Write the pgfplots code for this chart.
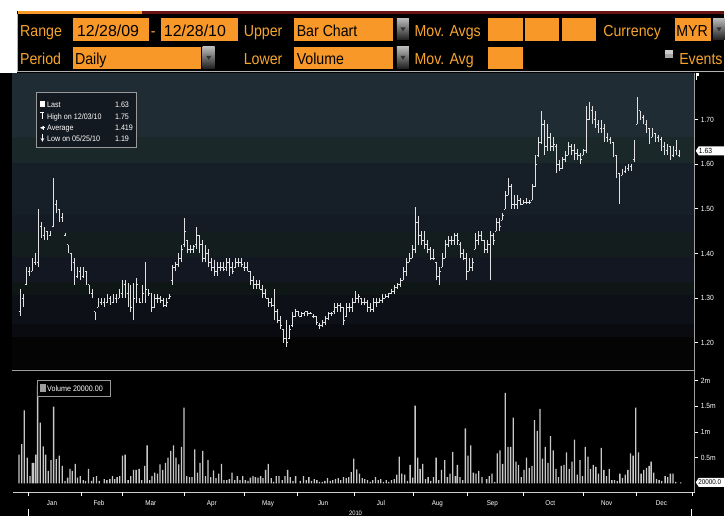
\documentclass[border=0pt]{standalone}
\usepackage{fontspec}
\setmainfont{Liberation Sans}
\newfontfamily\hdrfont{Liberation Sans}[FakeStretch=0.89]
\newfontfamily\smf{Liberation Sans}[FakeStretch=0.9]
\usepackage{pgfplots}
\pgfplotsset{compat=1.18}
\usepackage{pgfplotstable}
\usetikzlibrary{calc}

\definecolor{boxor}{RGB}{248,152,40}
\definecolor{lblor}{RGB}{247,165,45}
\definecolor{tabred}{RGB}{105,18,18}
\definecolor{bA}{RGB}{31,44,52}
\definecolor{bB}{RGB}{27,40,41}
\definecolor{bC}{RGB}{22,30,40}
\definecolor{bD}{RGB}{20,27,37}
\definecolor{bE}{RGB}{19,29,29}
\definecolor{bF}{RGB}{19,23,33}
\definecolor{bG}{RGB}{15,22,22}
\definecolor{bH}{RGB}{13,16,23}
\definecolor{bI}{RGB}{10,11,16}
\definecolor{bJ}{RGB}{4,4,5}
\definecolor{barc}{RGB}{225,225,225}
\definecolor{volc}{RGB}{200,200,200}
\definecolor{legbg}{RGB}{19,25,32}

\pgfdeclareplotmark{otick}{\pgfpathmoveto{\pgfqpoint{-1.3pt}{0pt}}\pgfpathlineto{\pgfqpoint{0pt}{0pt}}\pgfusepathqstroke}
\pgfdeclareplotmark{ctick}{\pgfpathmoveto{\pgfqpoint{0pt}{0pt}}\pgfpathlineto{\pgfqpoint{1.3pt}{0pt}}\pgfusepathqstroke}

\pgfplotstableread{
x o h l c
20 1.27 1.32 1.26 1.30
23 1.30 1.31 1.28 1.29
26 1.33 1.37 1.33 1.36
29 1.36 1.37 1.35 1.36
32 1.36 1.39 1.36 1.38
35 1.38 1.40 1.375 1.39
38 1.38 1.50 1.37 1.46
41 1.46 1.47 1.435 1.44
44 1.44 1.46 1.43 1.45
47 1.45 1.45 1.43 1.44
50 1.44 1.45 1.44 1.45
53 1.46 1.57 1.46 1.52
56 1.51 1.52 1.49 1.50
59 1.50 1.50 1.47 1.48
62 1.48 1.49 1.47 1.48
65 1.44 1.445 1.44 1.44
68 1.42 1.42 1.40 1.41
71 1.40 1.40 1.36 1.37
74 1.38 1.39 1.33 1.34
77 1.35 1.37 1.345 1.36
80 1.36 1.37 1.34 1.35
83 1.35 1.37 1.345 1.36
86 1.36 1.36 1.33 1.34
89 1.33 1.33 1.31 1.32
92 1.31 1.32 1.30 1.305
95 1.27 1.27 1.25 1.255
98 1.28 1.30 1.28 1.29
101 1.29 1.30 1.285 1.295
104 1.29 1.30 1.28 1.285
107 1.29 1.31 1.29 1.30
110 1.30 1.305 1.285 1.29
113 1.29 1.31 1.29 1.30
116 1.30 1.31 1.29 1.295
119 1.30 1.32 1.30 1.31
122 1.31 1.34 1.30 1.33
125 1.33 1.34 1.30 1.31
128 1.31 1.335 1.28 1.30
131 1.30 1.33 1.27 1.28
134 1.28 1.335 1.25 1.30
137 1.30 1.345 1.29 1.33
140 1.30 1.30 1.29 1.29
143 1.29 1.33 1.29 1.31
146 1.31 1.38 1.29 1.32
149 1.32 1.32 1.305 1.31
152 1.31 1.31 1.27 1.28
155 1.28 1.31 1.28 1.30
158 1.30 1.31 1.29 1.30
161 1.30 1.305 1.29 1.295
164 1.295 1.30 1.28 1.285
167 1.285 1.30 1.28 1.29
170 1.30 1.31 1.30 1.305
173 1.34 1.375 1.33 1.37
176 1.37 1.38 1.36 1.375
179 1.375 1.40 1.37 1.39
182 1.39 1.42 1.38 1.41
185 1.42 1.48 1.415 1.45
188 1.43 1.43 1.40 1.41
191 1.41 1.42 1.40 1.41
194 1.41 1.42 1.40 1.415
197 1.42 1.46 1.41 1.44
200 1.44 1.44 1.40 1.42
203 1.42 1.43 1.38 1.39
206 1.39 1.42 1.38 1.40
209 1.40 1.41 1.37 1.38
212 1.38 1.39 1.36 1.37
215 1.37 1.385 1.35 1.36
218 1.36 1.38 1.35 1.37
221 1.37 1.38 1.36 1.37
224 1.37 1.38 1.36 1.365
227 1.37 1.39 1.36 1.38
230 1.38 1.39 1.35 1.37
233 1.37 1.38 1.355 1.36
236 1.37 1.39 1.37 1.38
239 1.38 1.39 1.37 1.38
242 1.38 1.39 1.37 1.375
245 1.37 1.38 1.36 1.37
248 1.37 1.38 1.36 1.36
251 1.36 1.36 1.33 1.34
254 1.34 1.35 1.32 1.33
257 1.33 1.34 1.32 1.33
260 1.33 1.34 1.32 1.32
263 1.32 1.33 1.30 1.31
266 1.31 1.32 1.30 1.30
269 1.30 1.30 1.28 1.29
272 1.29 1.30 1.28 1.285
275 1.285 1.32 1.25 1.27
278 1.27 1.275 1.245 1.25
281 1.25 1.26 1.23 1.24
284 1.23 1.23 1.20 1.21
287 1.21 1.25 1.19 1.20
290 1.21 1.24 1.21 1.23
293 1.24 1.27 1.235 1.26
296 1.26 1.275 1.26 1.27
299 1.27 1.27 1.26 1.26
302 1.26 1.27 1.26 1.265
305 1.265 1.27 1.26 1.27
308 1.27 1.27 1.26 1.265
311 1.265 1.27 1.265 1.265
314 1.26 1.265 1.255 1.26
317 1.26 1.26 1.24 1.245
320 1.24 1.245 1.23 1.24
323 1.24 1.25 1.235 1.245
326 1.245 1.26 1.24 1.255
329 1.255 1.27 1.25 1.265
332 1.265 1.27 1.26 1.265
335 1.27 1.29 1.265 1.28
338 1.28 1.29 1.27 1.285
341 1.285 1.29 1.27 1.28
344 1.28 1.28 1.24 1.25
347 1.26 1.29 1.26 1.28
350 1.28 1.29 1.27 1.28
353 1.28 1.30 1.27 1.29
356 1.29 1.315 1.29 1.30
359 1.30 1.31 1.29 1.305
362 1.30 1.30 1.285 1.29
365 1.29 1.30 1.285 1.29
368 1.29 1.295 1.27 1.28
371 1.28 1.29 1.27 1.275
374 1.275 1.30 1.27 1.29
377 1.29 1.30 1.28 1.29
380 1.29 1.30 1.29 1.295
383 1.295 1.31 1.29 1.30
386 1.30 1.31 1.30 1.305
389 1.305 1.31 1.30 1.31
392 1.31 1.32 1.31 1.315
395 1.315 1.33 1.31 1.325
398 1.325 1.335 1.32 1.33
401 1.33 1.345 1.325 1.34
404 1.34 1.37 1.34 1.36
407 1.36 1.39 1.35 1.38
410 1.38 1.40 1.38 1.39
413 1.39 1.42 1.39 1.41
416 1.41 1.505 1.40 1.47
419 1.47 1.485 1.42 1.44
422 1.44 1.45 1.42 1.43
425 1.43 1.45 1.41 1.42
428 1.42 1.43 1.40 1.41
431 1.41 1.415 1.385 1.39
434 1.39 1.41 1.385 1.39
437 1.38 1.38 1.34 1.35
440 1.35 1.37 1.33 1.36
443 1.37 1.40 1.37 1.39
446 1.39 1.43 1.39 1.42
449 1.42 1.44 1.415 1.43
452 1.43 1.44 1.42 1.43
455 1.43 1.445 1.42 1.44
458 1.44 1.445 1.42 1.43
461 1.42 1.425 1.39 1.40
464 1.40 1.41 1.385 1.39
467 1.39 1.40 1.34 1.36
470 1.36 1.39 1.36 1.37
473 1.37 1.39 1.36 1.38
476 1.41 1.445 1.41 1.43
479 1.43 1.45 1.42 1.44
482 1.44 1.45 1.43 1.43
485 1.43 1.43 1.40 1.41
488 1.41 1.43 1.40 1.42
491 1.42 1.45 1.34 1.44
494 1.44 1.445 1.42 1.43
497 1.45 1.48 1.45 1.47
500 1.47 1.48 1.45 1.46
503 1.475 1.49 1.475 1.485
506 1.50 1.54 1.50 1.53
509 1.53 1.57 1.53 1.55
512 1.55 1.555 1.50 1.51
515 1.51 1.53 1.50 1.51
518 1.51 1.53 1.50 1.52
521 1.52 1.525 1.51 1.51
524 1.51 1.52 1.51 1.515
527 1.515 1.525 1.51 1.515
530 1.515 1.52 1.51 1.515
533 1.52 1.555 1.52 1.55
536 1.55 1.62 1.55 1.60
539 1.62 1.66 1.615 1.65
542 1.65 1.72 1.645 1.69
545 1.69 1.70 1.62 1.64
548 1.64 1.69 1.63 1.66
551 1.66 1.67 1.63 1.64
554 1.64 1.66 1.63 1.645
557 1.64 1.645 1.58 1.60
560 1.60 1.61 1.585 1.59
563 1.59 1.615 1.59 1.61
566 1.61 1.63 1.605 1.62
569 1.62 1.65 1.62 1.64
572 1.64 1.645 1.62 1.63
575 1.63 1.645 1.61 1.625
578 1.625 1.635 1.61 1.62
581 1.62 1.625 1.60 1.61
584 1.62 1.635 1.62 1.63
587 1.63 1.73 1.625 1.70
590 1.70 1.74 1.70 1.72
593 1.72 1.73 1.69 1.70
596 1.70 1.72 1.68 1.69
599 1.69 1.70 1.67 1.68
602 1.68 1.70 1.67 1.68
605 1.68 1.69 1.65 1.66
608 1.66 1.67 1.65 1.655
611 1.655 1.66 1.645 1.65
614 1.65 1.65 1.615 1.625
617 1.62 1.62 1.57 1.58
620 1.58 1.58 1.51 1.57
623 1.575 1.59 1.575 1.585
626 1.585 1.595 1.58 1.59
629 1.59 1.60 1.585 1.595
632 1.595 1.60 1.585 1.60
635 1.61 1.655 1.605 1.65
638 1.69 1.75 1.69 1.74
641 1.72 1.72 1.70 1.705
644 1.705 1.71 1.69 1.695
647 1.69 1.70 1.67 1.68
650 1.68 1.68 1.645 1.66
653 1.66 1.68 1.66 1.67
656 1.67 1.67 1.65 1.66
659 1.66 1.665 1.65 1.655
662 1.655 1.66 1.63 1.64
665 1.64 1.65 1.62 1.63
668 1.63 1.645 1.62 1.64
671 1.64 1.64 1.61 1.62
674 1.62 1.64 1.615 1.63
677 1.63 1.655 1.62 1.64
680 1.62 1.63 1.615 1.63
}\price

\pgfplotstableread{
x v
19 0.56
21.7 0.76
24.3 1.42
27.3 0.50
30 0.14
32.3 0.40
33.7 0.40
35.7 0.56
37.7 1.90
40.3 1.18
43.3 0.72
45.7 0.56
48.3 0.24
51 0.45
53.7 1.49
56.3 0.47
59.3 0.54
62.3 0.34
65 0.05
67.7 0.11
70 0.28
72.3 0.24
75.3 0.38
77.7 0.11
80.3 0.14
83.3 0.06
85.7 0.05
88.7 0.28
91.7 0.05
93.7 0.12
96.7 0.14
99.3 0.05
104.3 0.08
107 0.06
110 0.08
112.7 0.14
115 0.08
117.3 0.12
120 0.14
122.7 0.54
125.3 0.56
128.3 0.06
131 0.14
133.7 0.26
136.3 0.26
139.3 0.28
142 0.06
145 0.34
147.3 0.74
150 0.06
152.3 0.14
155 0.21
157.7 0.19
160.3 0.37
163 0.26
165.7 0.40
168.3 0.50
171 0.63
173.7 0.74
176.3 0.50
179 0.37
181.7 0.71
184.3 1.47
187 0.14
189.7 0.12
192.3 0.12
195 0.66
197.7 0.21
200.3 0.40
203 0.63
205.7 0.14
208.3 0.45
211 0.12
213.7 0.25
216.3 0.10
219 0.19
221.7 0.38
224.3 0.06
227 0.06
229.7 0.08
232.3 0.21
235 0.06
237.7 0.14
240.3 0.06
243 0.14
245.7 0.06
248.3 0.05
250.7 0.11
253.3 0.14
255.7 0.12
258.3 0.11
261 0.14
263.3 0.10
266 0.26
268.7 0.38
271.7 0.10
274 0.03
276.7 0.14
279.3 0.14
282.7 0.06
285.3 0.14
288 0.26
290.7 0.12
293.3 0.05
296 0.14
300.7 0.05
304 0.14
306.7 0.06
309.3 0.12
312 0.05
314.7 0.08
317.3 0.06
320 0.03
322.7 0.03
325.3 0.05
328 0.10
330.7 0.05
333.3 0.06
336 0.08
338.7 0.10
341.3 0.06
344 0.12
346.7 0.10
349.3 0.12
351.7 0.22
354.3 0.48
357.3 0.27
360 0.19
362.7 0.10
365.3 0.08
368 0.06
370.7 0.03
373.3 0.06
376 0.12
378.7 0.06
381.3 0.08
384 0.03
386.7 0.06
389.3 0.03
392 0.06
394.7 0.08
397.3 0.17
399.7 0.52
402.3 0.19
405.3 0.17
408 0.05
410.7 0.36
413.3 0.11
415.7 1.51
418.3 0.50
420.7 0.28
423.3 0.38
426 0.08
428.7 0.12
431.3 0.05
434 0.12
436.7 0.50
439.3 0.06
442 0.26
445.3 0.45
448 0.12
450.7 0.19
453.3 0.61
456 0.14
458 0.36
460.7 0.12
463.3 0.06
466 1.07
468.7 0.54
471.3 0.74
474 0.21
476.7 0.19
479.3 0.24
482.7 0.12
487.3 0.08
490 0.14
492.7 0.19
495.3 0.03
498 0.58
500.7 0.64
503.3 0.38
506 1.76
508.7 0.71
511.3 0.71
514 1.28
516.7 0.42
519.3 0.36
522 0.12
524.7 0.26
527.3 0.50
530 0.30
532.7 0.34
535.3 1.23
538 1.02
540.7 1.45
543.3 0.48
546 0.71
548.7 0.40
551.3 0.92
554 0.64
556.7 0.28
559.3 0.12
562 0.34
564.7 0.36
567.3 0.60
570 0.28
572.7 0.42
575.3 0.85
578 0.17
580.7 0.45
583.3 0.14
586 0.71
588.7 0.52
591.3 0.28
594 0.36
596.7 0.32
599.3 0.19
602 0.69
604.7 0.26
607.3 0.14
610 0.28
612.7 0.06
615.3 0.06
618 0.05
620.7 0.19
623.3 0.10
626 0.17
628.7 0.26
631.3 0.58
634 0.54
636.7 1.47
639.3 0.60
642 0.19
644.7 0.26
647.3 0.30
650 0.34
652 0.42
654.7 0.21
657.3 0.08
660 0.06
662.7 0.05
666 0.14
668.7 0.12
671.3 0.19
674 0.19
676.7 0.03
681.7 0.02
}\vol

\tikzset{
  hlab/.style={anchor=base west, inner sep=0pt, text=lblor, font=\hdrfont\fontsize{16}{16}\selectfont},
  hnum/.style={anchor=base west, inner sep=0pt, text=black, font=\fontsize{16}{16}\selectfont},
  htxt/.style={anchor=base west, inner sep=0pt, text=black, font=\hdrfont\fontsize{16}{16}\selectfont},
  ddbtn/.style={top color=gray!55, bottom color=gray!25!black, draw=none},
  lg/.style={anchor=base west, inner sep=0pt, text=white, font=\smf\fontsize{8}{8}\selectfont},
}
\newcommand{\ddb}[2]{\fill[ddbtn] (#1,#2) rectangle ++(12,21.5);
  \fill[black!80] ($(#1,#2)+(3.5,12.5)$) -- ++(5,0) -- ++(-2.5,-4) -- cycle;}

\begin{document}
\begin{tikzpicture}[x=1bp,y=1bp]
% page background
\fill[black] (0,0) rectangle (725,517);
\fill[white] (0,506.3) rectangle (725,517);
\fill[white] (0,444) rectangle (17.5,517);
\fill[boxor] (18.5,503) rectangle (142,506.3);
\fill[tabred] (142,503) rectangle (725,505.5);
\draw[gray!60, line width=0.8bp] (17.6,445.3) -- (17.6,503) (17.6,445.3) -- (725,445.3);

% header row 1
\node[hlab] at (20,480.3) {Range};
\fill[boxor] (73,476.3) rectangle (149,498.7);
\node[hnum] at (77,480.3) {12/28/09};
\node[hlab] at (151,480.3) {-};
\fill[boxor] (161,476.3) rectangle (238.5,498.7);
\node[hnum] at (164,480.3) {12/28/10};
\node[hlab] at (244,480.3) {Upper};
\fill[boxor] (294,476.3) rectangle (394,498.7);
\node[htxt] at (297,480.3) {Bar Chart};
\ddb{397.5}{477}
\node[hlab] at (415,480.3) {Mov. Avgs};
\fill[boxor] (489,476.3) rectangle (524,498.7);
\fill[boxor] (526,476.3) rectangle (560,498.7);
\fill[boxor] (563,476.3) rectangle (597,498.7);
\node[hlab] at (604,480.3) {Currency};
\fill[boxor] (676,476.3) rectangle (712,498.7);
\node[htxt] at (677,480.3) {MYR};
\ddb{714}{477}
% header row 2
\node[hlab] at (20,452) {Period};
\fill[boxor] (73,448) rectangle (201,470.3);
\node[htxt] at (75,452) {Daily};
\ddb{203}{448.5}
\node[hlab] at (244,452) {Lower};
\fill[boxor] (294,448) rectangle (394,470.3);
\node[htxt] at (297,452) {Volume};
\ddb{397.5}{448.5}
\node[hlab] at (415,452) {Mov. Avg};
\fill[boxor] (489,448) rectangle (524,470.3);
\fill[gray!70] (666,459) rectangle (674,467);
\fill[gray!40] (666,463) rectangle (674,467);
\node[hlab] at (680,452) {Events};

% upper panel background bands
\fill[bA] (12.3,380) rectangle (695.7,444);
\fill[bB] (12.3,354) rectangle (695.7,380);
\fill[bC] (12.3,302) rectangle (695.7,354);
\fill[bD] (12.3,285) rectangle (695.7,302);
\fill[bE] (12.3,260) rectangle (695.7,285);
\fill[bF] (12.3,235) rectangle (695.7,260);
\fill[bG] (12.3,222) rectangle (695.7,235);
\fill[bH] (12.3,193) rectangle (695.7,222);
\fill[bI] (12.3,180) rectangle (695.7,193);
\fill[bJ] (12.3,147) rectangle (695.7,180);
% flag
\draw[white, line width=0.6bp] (697,437) -- (697,444);
\fill[white] (697,440.5) rectangle (700,444);
% frame lines
\draw[gray!75, line width=0.9bp] (695.7,24) -- (695.7,444);
\draw[white!80!black, line width=0.9bp] (13,24) -- (695.7,24);

% ---------- price panel ----------
\begin{axis}[
  at={(13bp,147bp)}, anchor=south west,
  width=682.7bp, height=297bp, scale only axis,
  xmin=13, xmax=695.7, ymin=1.1403, ymax=1.8044,
  axis line style={draw=none},
  xtick=\empty,
  ytick pos=right, yticklabel pos=right,
  ytick={1.2,1.3,1.4,1.5,1.6,1.7},
  tick align=outside, major tick length=3.5bp,
  tick style={white, line width=0.7bp},
  yticklabel style={font=\smf\fontsize{7.5}{8}\selectfont, text=white, xshift=-1bp},
  /pgf/number format/.cd, fixed, fixed zerofill, precision=2, assume math mode=true,
  /pgfplots/.cd,
  clip=false,
]
\addplot[draw=none, mark=none, error bars/.cd, y dir=plus, y explicit, error mark=none,
  error bar style={draw=barc, line width=0.65bp}]
  table[x=x, y=l, y error expr={\thisrow{h}-\thisrow{l}}] {\price};
\addplot[only marks, mark=otick, barc, line width=0.65bp] table[x=x, y=o] {\price};
\addplot[only marks, mark=ctick, barc, line width=0.65bp] table[x=x, y=c] {\price};
\coordinate (lastp) at (axis cs:695.7,1.63);
\end{axis}

% last price marker
\fill[white] ([xshift=1bp]lastp) -- ++(3,4.5) -- ++(26,0) -- ++(0,-9) -- ++(-26,0) -- cycle;
\node[anchor=west, inner sep=0pt, text=black, font=\smf\fontsize{7.5}{8}\selectfont] at ([xshift=4bp]lastp) {1.63};

% price legend
\draw[gray!80, fill=legbg, line width=0.7bp] (36,369) rectangle (137,425);
\fill[white] (40,409.5) rectangle (45,416);
\node[lg] at (47,409.5) {Last};
\node[lg] at (115,409.5) {1.63};
\draw[white, line width=0.7bp] (40.5,404.5) -- (44.5,404.5) (42.5,404.5) -- (42.5,397.5);
\node[lg] at (47,397.5) {High on 12/03/10};
\node[lg] at (115,397.5) {1.75};
\draw[white, line width=0.7bp, -stealth] (45,389) -- (40,389);
\draw[white, line width=0.6bp] (43.5,387) -- (43.5,391);
\node[lg] at (47,386.5) {Average};
\node[lg] at (115,386.5) {1.419};
\draw[white, line width=0.7bp, -stealth] (42.5,382.5) -- (42.5,375);
\node[lg] at (47,375.5) {Low on 05/25/10};
\node[lg] at (115,375.5) {1.19};

% separator
\draw[gray!75, line width=1.6bp] (12.3,146) -- (695.7,146);

% ---------- volume panel ----------
\begin{axis}[
  at={(13bp,24bp)}, anchor=south west,
  width=682.7bp, height=121bp, scale only axis,
  xmin=13, xmax=695.7, ymin=-0.1748, ymax=2.1748,
  axis line style={draw=none},
  xtick pos=left, xticklabel pos=left,
  ytick pos=right, yticklabel pos=right,
  ytick={0.5,1,1.5,2}, yticklabels={0.5m,1m,1.5m,2m},
  xtick={28.7,81.4,123,185,245,298,355,414,468,524,584,637,693.5},
  xticklabels={Jan,Feb,Mar,Apr,May,Jun,Jul,Aug,Sep,Oct,Nov,Dec,},
  x tick label as interval,
  tick align=outside, major tick length=3.5bp,
  tick style={white, line width=0.7bp},
  yticklabel style={font=\smf\fontsize{7.5}{8}\selectfont, text=white, xshift=-1bp},
  xticklabel style={font=\smf\fontsize{7}{8}\selectfont, text=white, xshift=-3bp, yshift=-1bp},
  /pgf/number format/assume math mode=true,
  clip=false,
]
\addplot[ybar, bar width=1.3bp, fill=volc, draw=none] table[x=x, y=v] {\vol};
\coordinate (lastv) at (axis cs:695.7,0.02);
\end{axis}

% last volume marker
\fill[white] ([xshift=1bp]lastv) -- ++(3,4.5) -- ++(26,0) -- ++(0,-9) -- ++(-26,0) -- cycle;
\node[anchor=west, inner sep=0pt, text=black, font=\smf\fontsize{7}{8}\selectfont] at ([xshift=3.5bp]lastv) {20000.0};

% volume legend
\draw[gray!80, fill=black, line width=0.7bp] (37,120) rectangle (111,136);
\fill[gray!75] (40,124) rectangle (46,132);
\node[lg] at (47,124.5) {Volume 20000.00};

% year markers
\draw[white, line width=0.6bp] (28.7,0) -- (28.7,7);
\draw[white, line width=0.6bp] (692,0) -- (692,7);
\node[anchor=center, inner sep=0pt, text=white, font=\smf\fontsize{6.5}{7}\selectfont] at (356,3.5) {2010};
\end{tikzpicture}
\end{document}
